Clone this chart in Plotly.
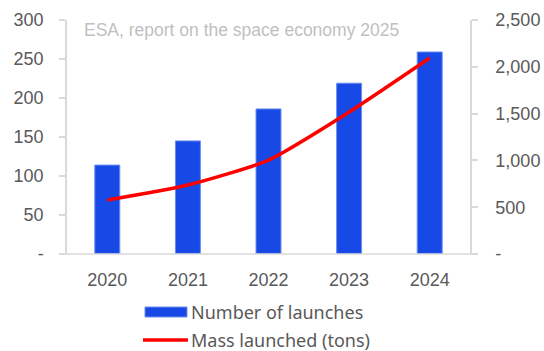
import plotly.graph_objects as go

# Launch statistics, 2020-2024
years = ["2020", "2021", "2022", "2023", "2024"]
launches = [114, 145, 186, 219, 259]
mass_tons = [577, 737, 1004, 1517, 2094]

left_ticks = [0, 50, 100, 150, 200, 250, 300]
left_text = ["-", "50", "100", "150", "200", "250", "300"]
right_ticks = [0, 500, 1000, 1500, 2000, 2500]
right_text = ["-", "500", "1,000", "1,500", "2,000", "2,500"]

BLUE = "#1749E6"
RED = "#FF0000"
AXIS = "#D9D9D9"
TXT = "#595959"

W, H = 544, 351
L, R, T, B = 67, 74, 20, 97
pw, ph = W - L - R, H - T - B


def px(x):
    return (x - L) / pw


def py(y):
    return (H - B - y) / ph


fig = go.Figure()
fig.add_trace(go.Bar(
    x=years, y=launches, name="Number of launches",
    marker=dict(color=BLUE, line=dict(color="#6E8EF0", width=1)),
    width=0.31, yaxis="y",
))
fig.add_trace(go.Scatter(
    x=years, y=mass_tons, name="Mass launched (tons)", mode="lines",
    line=dict(color=RED, width=3.5, shape="spline", smoothing=0.6),
    yaxis="y2",
))

tick_font = dict(family="Liberation Sans, Arial", size=18, color=TXT)

fig.update_layout(
    width=W, height=H,
    margin=dict(l=L, r=R, t=T, b=B),
    paper_bgcolor="white", plot_bgcolor="white",
    showlegend=False,
    xaxis=dict(
        showline=False, showgrid=False, ticks="",
        tickfont=tick_font, automargin=False,
        ticklabelstandoff=13,
    ),
    yaxis=dict(
        range=[0, 300], tickvals=left_ticks, ticktext=left_text,
        showgrid=False, zeroline=False, automargin=False,
        showline=True, linecolor=AXIS, linewidth=1.5,
        ticks="outside", ticklen=6, tickcolor=AXIS, tickwidth=1.5,
        tickfont=tick_font, ticklabelstandoff=12,
    ),
    yaxis2=dict(
        range=[0, 2500], tickvals=right_ticks, ticktext=right_text,
        overlaying="y", side="right",
        showgrid=False, zeroline=False, automargin=False,
        showline=True, linecolor=AXIS, linewidth=1.5,
        ticks="outside", ticklen=6, tickcolor=AXIS, tickwidth=1.5,
        tickfont=tick_font, ticklabelstandoff=14,
    ),
)

# horizontal category axis line, reaching past both value axes
fig.add_shape(type="line", xref="paper", yref="paper",
              x0=px(60), x1=px(477), y0=0, y1=0,
              line=dict(color=AXIS, width=1.5))

# source note inside the plot area
fig.add_annotation(
    text="ESA, report on the space economy 2025",
    xref="paper", yref="paper", x=px(82), y=py(30),
    xanchor="left", yanchor="middle", showarrow=False,
    font=dict(family="Liberation Sans, Arial", size=17.5, color="#BFBFBF"),
)

# legend below the chart
legend_font = dict(family="Noto Sans", size=18, color=TXT)
fig.add_shape(type="rect", xref="paper", yref="paper",
              x0=px(145), x1=px(187), y0=py(317), y1=py(307),
              fillcolor=BLUE, line=dict(color="#6E8EF0", width=1))
fig.add_annotation(text="Number of launches", xref="paper", yref="paper",
                   x=px(189), y=py(312), xanchor="left", yanchor="middle",
                   showarrow=False, font=legend_font)
fig.add_shape(type="line", xref="paper", yref="paper",
              x0=px(143), x1=px(188), y0=py(340), y1=py(340),
              line=dict(color=RED, width=3.5))
fig.add_annotation(text="Mass launched (tons)", xref="paper", yref="paper",
                   x=px(189), y=py(340), xanchor="left", yanchor="middle",
                   showarrow=False, font=legend_font)

fig.write_html("out.html")
